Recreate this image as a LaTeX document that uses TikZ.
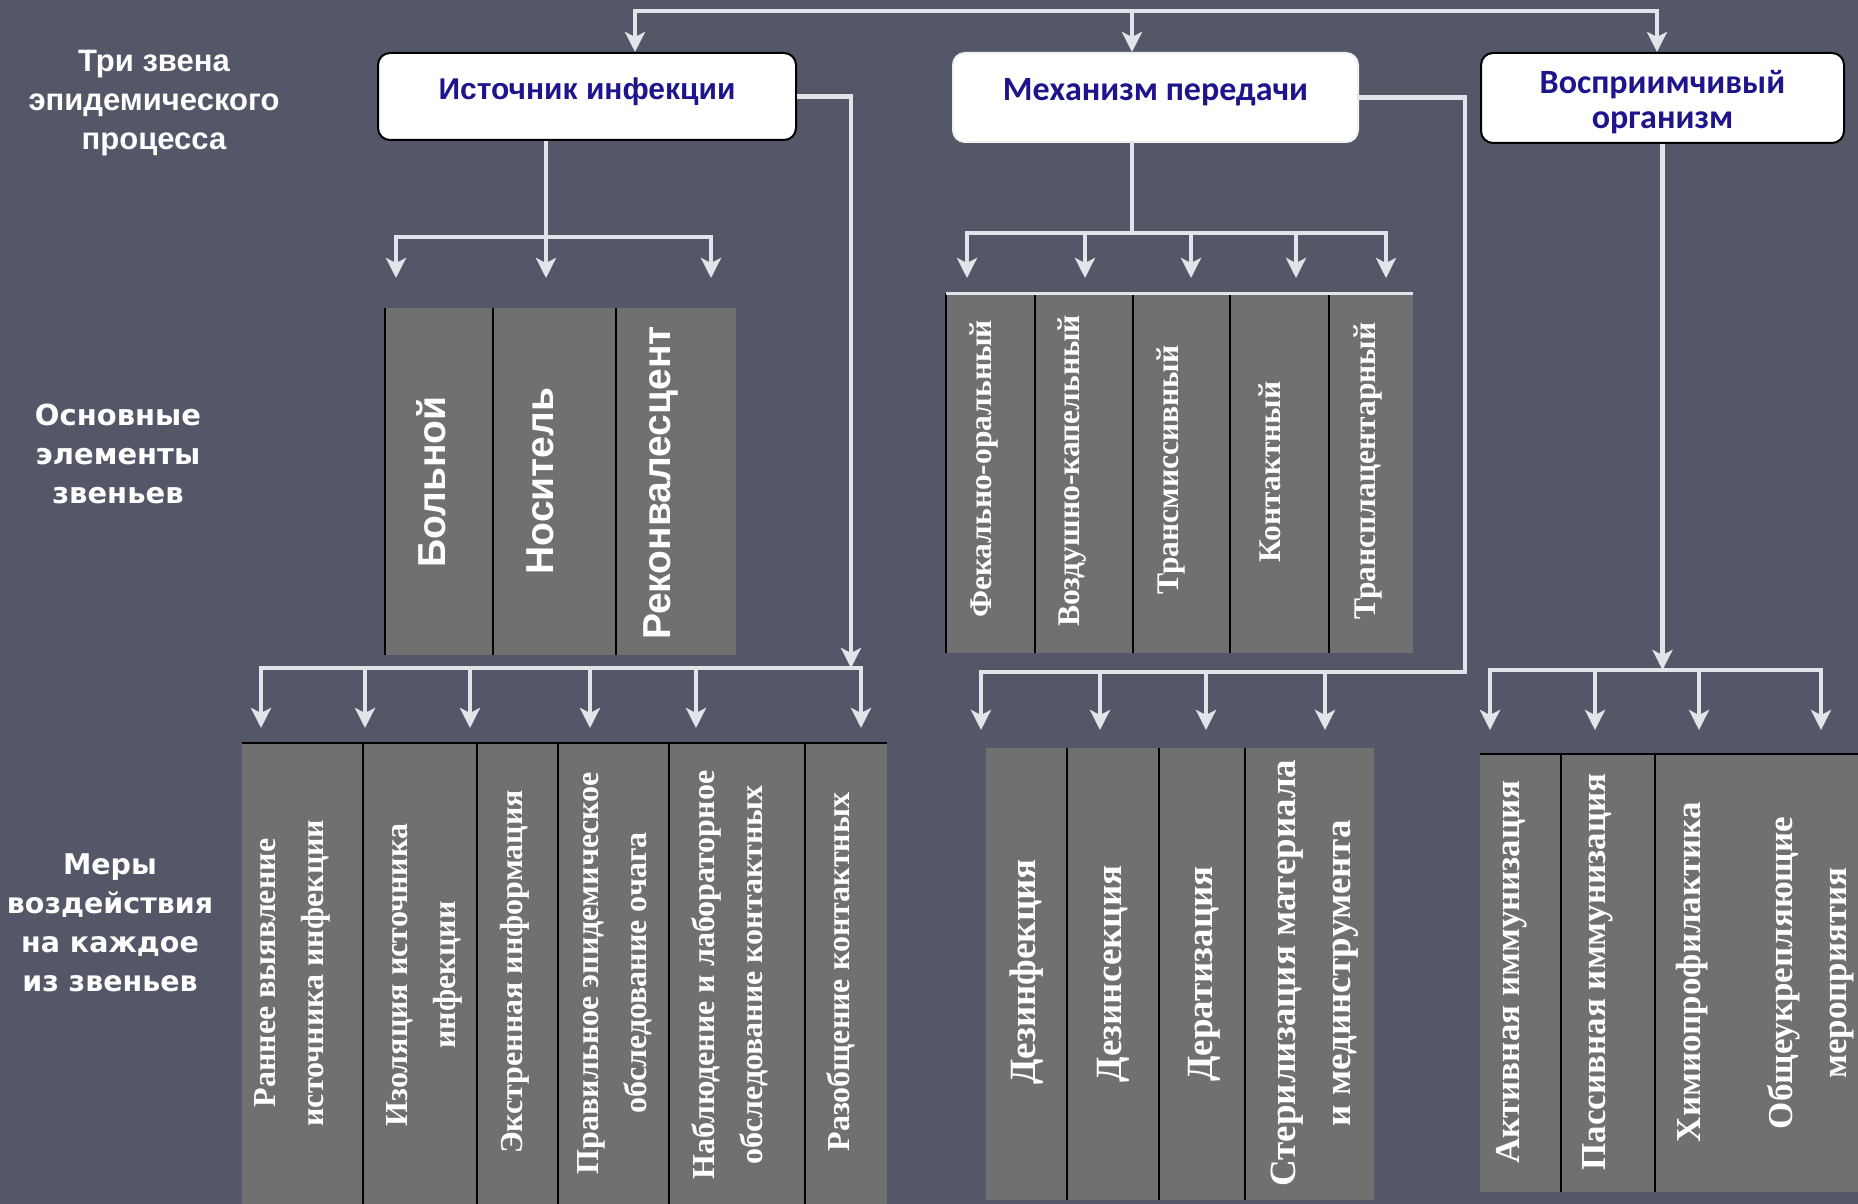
\documentclass[tikz,border=0pt]{standalone}
\usepackage{fontspec}
\setmainfont{Liberation Serif}
\newfontfamily\lsans{Liberation Sans}
\newfontfamily\carl{Carlito}
\newfontfamily\dvs{DejaVu Sans}
\usetikzlibrary{arrows.meta}
\definecolor{bg}{RGB}{84,87,104}
\definecolor{colgray}{RGB}{112,112,112}
\definecolor{wirec}{RGB}{226,228,234}
\definecolor{navy}{RGB}{30,20,140}
\tikzset{
  wire/.style={draw=wirec, line width=4.5pt, line cap=rect},
  arr/.style={draw=wirec, line width=4.5pt, -{Stealth[length=20pt,width=20pt,inset=5pt]}},
  topbox/.style={rectangle, rounded corners=12pt, fill=white, draw=black, line width=2pt, inner sep=0pt, align=center, text=navy, anchor=north west},
  colbox/.style={rectangle, fill=colgray, draw=none, inner sep=0pt, anchor=north west},
  divider/.style={draw=black, line width=2pt},
  vtext/.style={rotate=90, align=center, text=white, inner sep=0pt},
  sidelabel/.style={text=white, align=center, inner sep=0pt},
  fontA/.style={font=\lsans\bfseries\fontsize{39}{48}\selectfont},
  fontB/.style={font=\bfseries\fontsize{31.5}{40}\selectfont},
  fontC/.style={font=\bfseries\fontsize{32}{48}\selectfont},
  fontD/.style={font=\bfseries\fontsize{37}{55}\selectfont},
  fontE/.style={font=\bfseries\fontsize{35}{54}\selectfont},
}
\begin{document}
\begin{tikzpicture}[x=1pt,y=-1pt]
\useasboundingbox (0,0) rectangle (1858,1204);
\fill[bg] (0,0) rectangle (1858,1204);

% side labels
\node[sidelabel, font=\lsans\bfseries\fontsize{31}{39}\selectfont] (lab1) at (154,103) {Три звена\\эпидемического\\процесса};
\node[sidelabel, font=\dvs\bfseries\fontsize{29}{39}\selectfont] (lab2) at (118,454) {Основные\\элементы\\звеньев};
\node[sidelabel, font=\dvs\bfseries\fontsize{28.5}{39}\selectfont] (lab3) at (110,923) {Меры\\воздействия\\на каждое\\из звеньев};

% top boxes
\node[topbox, minimum width=418pt, minimum height=87pt, text depth=16pt, font=\lsans\bfseries\fontsize{30}{34}\selectfont] (src) at (377,52) {Источник инфекции};
\node[topbox, draw=white!88!gray, minimum width=405pt, minimum height=89pt, text depth=16pt, font=\carl\bfseries\fontsize{34}{36}\selectfont] (mech) at (952,52) {Механизм передачи};
\node[topbox, minimum width=363pt, minimum height=90pt] (host) at (1480,52) {};
\node[text=navy, align=center, inner sep=0pt, font=\carl\bfseries\fontsize{34}{35}\selectfont] (hosttxt) at ([yshift=-4pt]host.center) {Восприимчивый\\организм};

% top distribution line
\coordinate (t1) at (635,11);
\coordinate (t2) at (1132,11);
\coordinate (t3) at (1657,11);
\draw[wire] (t1) -- (t3);
\draw[arr] (t1) -- (t1 |- src.north);
\draw[arr] (t2) -- (t2 |- mech.north);
\draw[arr] (t3) -- (t3 |- host.north);

% ---------- group A (elements of source)
\node[colbox, minimum width=108pt, minimum height=347pt] (a1) at (385,308) {};
\node[colbox, minimum width=123pt, minimum height=347pt] (a2) at (493,308) {};
\node[colbox, minimum width=120pt, minimum height=347pt] (a3) at (616,308) {};
\draw[divider] (a1.north west) -- (a1.south west);
\draw[divider] (a2.north west) -- (a2.south west);
\draw[divider] (a3.north west) -- (a3.south west);
\node[vtext, fontA] (ta1) at (431,482) {Больной};
\node[vtext, fontA] (ta2) at (540,481) {Носитель};
\node[vtext, fontA] (ta3) at (661,483) {Реконвалесцент};

% ---------- group B (mechanisms)
\node[colbox, minimum width=89pt, minimum height=360pt] (b1) at (946,293) {};
\node[colbox, minimum width=98pt, minimum height=360pt] (b2) at (1035,293) {};
\node[colbox, minimum width=97pt, minimum height=360pt] (b3) at (1133,293) {};
\node[colbox, minimum width=99pt, minimum height=360pt] (b4) at (1230,293) {};
\node[colbox, minimum width=84pt, minimum height=360pt] (b5) at (1329,293) {};
\draw[divider] (b1.north west) -- (b1.south west);
\draw[divider] (b2.north west) -- (b2.south west);
\draw[divider] (b3.north west) -- (b3.south west);
\draw[divider] (b4.north west) -- (b4.south west);
\draw[divider] (b5.north west) -- (b5.south west);
\draw[draw=wirec, line width=3pt] (b1.north west) -- (b5.north east);
\node[vtext, fontB] (tb1) at (984,469) {Фекально-оральный};
\node[vtext, fontB] (tb2) at (1072,471) {Воздушно-капельный};
\node[vtext, fontB] (tb3) at (1171,470) {Трансмиссивный};
\node[vtext, fontB] (tb4) at (1270,472) {Контактный};
\node[vtext, fontB] (tb5) at (1368,471) {Трансплацентарный};

% ---------- group C (measures on source)
\node[colbox, minimum width=121pt, minimum height=461pt] (c1) at (242,743) {};
\node[colbox, minimum width=114pt, minimum height=461pt] (c2) at (363,743) {};
\node[colbox, minimum width=81pt, minimum height=461pt] (c3) at (477,743) {};
\node[colbox, minimum width=111pt, minimum height=461pt] (c4) at (558,743) {};
\node[colbox, minimum width=136pt, minimum height=461pt] (c5) at (669,743) {};
\node[colbox, minimum width=82pt, minimum height=461pt] (c6) at (805,743) {};
\draw[divider] (c2.north west) -- (c2.south west);
\draw[divider] (c3.north west) -- (c3.south west);
\draw[divider] (c4.north west) -- (c4.south west);
\draw[divider] (c5.north west) -- (c5.south west);
\draw[divider] (c6.north west) -- (c6.south west);
\draw[draw=black, line width=2.5pt] (c1.north west) -- (c6.north east);
\node[vtext, fontC] (tc1) at (292,973) {Раннее выявление\\источника инфекции};
\node[vtext, fontC] (tc2) at (424,975) {Изоляция источника\\инфекции};
\node[vtext, fontC] (tc3) at (515,972) {Экстренная информация};
\node[vtext, fontC] (tc4) at (615,973) {Правильное эпидемическое\\обследование очага};
\node[vtext, fontC] (tc5) at (730,975) {Наблюдение и лабораторное\\обследование контактных};
\node[vtext, fontC] (tc6) at (841,972) {Разобщение контактных};

% ---------- group D (measures on mechanism)
\node[colbox, minimum width=81pt, minimum height=452pt] (d1) at (986,748) {};
\node[colbox, minimum width=92pt, minimum height=452pt] (d2) at (1067,748) {};
\node[colbox, minimum width=86pt, minimum height=452pt] (d3) at (1159,748) {};
\node[colbox, minimum width=129pt, minimum height=452pt] (d4) at (1245,748) {};
\draw[divider] (d2.north west) -- (d2.south west);
\draw[divider] (d3.north west) -- (d3.south west);
\draw[divider] (d4.north west) -- (d4.south west);
\node[vtext, fontD] (td1) at (1027,972) {Дезинфекция};
\node[vtext, fontD] (td2) at (1113,974) {Дезинсекция};
\node[vtext, fontD] (td3) at (1204,974) {Дератизация};
\node[vtext, fontD] (td4) at (1315,973) {Стерилизация материала\\и мединструмента};

% ---------- group E (measures on host)
\node[colbox, minimum width=81pt, minimum height=438pt] (e1) at (1480,754) {};
\node[colbox, minimum width=94pt, minimum height=438pt] (e2) at (1561,754) {};
\node[colbox, minimum width=203pt, minimum height=438pt] (e3) at (1655,754) {};
\draw[divider] (e2.north west) -- (e2.south west);
\draw[divider] (e3.north west) -- (e3.south west);
\draw[draw=black, line width=2.5pt] (e1.north west) -- (e3.north east);
\node[vtext, fontE] (te1) at (1512,972) {Активная иммунизация};
\node[vtext, fontE] (te2) at (1598,972) {Пассивная иммунизация};
\node[vtext, fontE] (te3) at (1692,972) {Химиопрофилактика};
\node[vtext, fontE] (te4) at (1811,973) {Общеукрепляющие\\мероприятия};

% ---------- source branch
\coordinate (sj) at (546,237);
\coordinate (sa1) at (396,278);
\coordinate (sa2) at (546,278);
\coordinate (sa3) at (711,278);
\draw[wire] (sa1 |- sj) -- (sa3 |- sj);
\draw[arr] (sa1 |- sj) -- (sa1);
\draw[arr] (sj |- src.south) -- (sa2);
\draw[arr] (sa3 |- sj) -- (sa3);

\coordinate (sr) at (851,668);
\coordinate (ca1) at (261,728);
\coordinate (ca2) at (365,728);
\coordinate (ca3) at (470,728);
\coordinate (ca4) at (590,728);
\coordinate (ca5) at (696,728);
\coordinate (ca6) at (861,728);
\draw[wire] (ca1 |- sr) -- (ca6 |- sr);
\draw[arr] (src.east) -| (sr);
\foreach \i in {1,...,6} { \draw[arr] (ca\i |- sr) -- (ca\i); }

% ---------- mechanism branch
\coordinate (mj) at (1132,233);
\coordinate (ma1) at (967,278);
\coordinate (ma2) at (1085,278);
\coordinate (ma3) at (1191,278);
\coordinate (ma4) at (1296,278);
\coordinate (ma5) at (1386,278);
\draw[wire] (ma1 |- mj) -- (ma5 |- mj);
\draw[wire] (mj |- mech.south) -- (mj);
\foreach \i in {1,...,5} { \draw[arr] (ma\i |- mj) -- (ma\i); }

\coordinate (mr) at (1465,672);
\coordinate (md1) at (981,730);
\coordinate (md2) at (1100,730);
\coordinate (md3) at (1206,730);
\coordinate (md4) at (1325,730);
\draw[wire] (mech.east) -| (mr) -- (md1 |- mr);
\foreach \i in {1,...,4} { \draw[arr] (md\i |- mr) -- (md\i); }

% ---------- host branch
\coordinate (hj) at (1661,670);
\coordinate (he1) at (1490,730);
\coordinate (he2) at (1595,730);
\coordinate (he3) at (1699,730);
\coordinate (he4) at (1821,730);
\draw[wire] (he1 |- hj) -- (he4 |- hj);
\draw[arr] (host.south) -- (host.south |- hj);
\foreach \i in {1,...,4} { \draw[arr] (he\i |- hj) -- (he\i); }
\end{tikzpicture}
\end{document}
